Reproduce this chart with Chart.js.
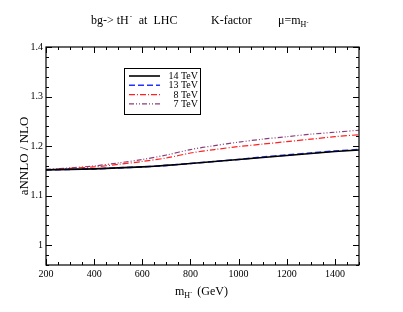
<!DOCTYPE html>
<html><head><meta charset="utf-8">
<script src="https://cdn.jsdelivr.net/npm/chart.js@4.4.0/dist/chart.umd.min.js"></script>
<style>html,body{margin:0;padding:0;background:#fff}#wrap{width:403px;height:312px}</style>
</head><body><div id="wrap"><canvas id="c" width="403" height="312"></canvas></div>
<script>
const masses = [200,300,400,500,600,700,800,900,1000,1100,1200,1300,1400,1500];
const k14 = [1.152,1.153,1.154,1.156,1.158,1.161,1.165,1.169,1.173,1.177,1.181,1.185,1.189,1.192];
const k13 = [1.152,1.153,1.154,1.156,1.158,1.161,1.165,1.169,1.173,1.178,1.182,1.186,1.190,1.193];
const k8  = [1.152,1.155,1.158,1.163,1.169,1.176,1.186,1.193,1.199,1.204,1.209,1.214,1.219,1.223];
const k7  = [1.153,1.156,1.160,1.166,1.173,1.182,1.193,1.201,1.208,1.214,1.219,1.224,1.228,1.232];
const seriesLabels = ['14 TeV','13 TeV','8 TeV','7 TeV'];
const xTickLabels = [200,400,600,800,1000,1200,1400];
const yTickLabels = [1,1.1,1.2,1.3,1.4];

const serif = "'Liberation Serif', 'DejaVu Serif', serif";
function pts(arr){ return masses.map((m,i)=>({x:m,y:arr[i]})); }

const decor = {
  id:'decor',
  afterDatasetsDraw(chart){
    const {ctx, chartArea:a, scales:{x,y}} = chart;
    ctx.save();
    ctx.strokeStyle='#000'; ctx.lineWidth=1.2; ctx.setLineDash([]);
    ctx.strokeRect(a.left, a.top, a.right-a.left, a.bottom-a.top);
    ctx.lineWidth=1;
    for(let v=200; v<=1500; v+=50){
      const px = Math.round(x.getPixelForValue(v))+0.5;
      const L = (v%200===0)?6:3;
      ctx.beginPath();
      ctx.moveTo(px,a.bottom); ctx.lineTo(px,a.bottom-L);
      ctx.moveTo(px,a.top); ctx.lineTo(px,a.top+L);
      ctx.stroke();
    }
    for(let i=0;i<=22;i++){
      const v = 0.96 + i*0.02;
      const py = Math.round(y.getPixelForValue(v))+0.5;
      const major = Math.abs(v*10-Math.round(v*10))<1e-6;
      const L = major?6:3;
      ctx.beginPath();
      ctx.moveTo(a.left,py); ctx.lineTo(a.left+L,py);
      ctx.moveTo(a.right,py); ctx.lineTo(a.right-L,py);
      ctx.stroke();
    }
    // title
    ctx.fillStyle='#000';
    ctx.font = "12px "+serif;
    ctx.textBaseline='alphabetic';
    ctx.textAlign='left';
    let tx = 91, ty = 24;
    ctx.fillText('bg-> tH', tx, ty);
    let w = ctx.measureText('bg-> tH').width;
    ctx.font = "7px "+serif; ctx.fillText('-', tx+w+1, ty-6);
    ctx.font = "12px "+serif;
    ctx.fillText('at  LHC', tx+w+10, ty);
    ctx.fillText('K-factor', 211, ty);
    ctx.fillText('\u03BC=m', 278, ty);
    let w2 = ctx.measureText('\u03BC=m').width;
    ctx.font = "8px "+serif; ctx.fillText('H', 278+w2, ty+3);
    ctx.font = "6px "+serif; ctx.fillText('-', 278+w2+6, ty);
    // x axis title
    ctx.font = "12px "+serif;
    const xl = 175;
    ctx.fillText('m', xl, 295);
    let wm = ctx.measureText('m').width;
    ctx.font = "8px "+serif; ctx.fillText('H', xl+wm, 298);
    ctx.font = "6px "+serif; ctx.fillText('-', xl+wm+6, 294);
    ctx.font = "12px "+serif; ctx.fillText('(GeV)', xl+wm+13, 295);
    // y axis title
    ctx.save();
    ctx.translate(28, 156); ctx.rotate(-Math.PI/2);
    ctx.textAlign='center';
    ctx.font = "13px "+serif;
    ctx.fillText('aNNLO / NLO', 0, 0);
    ctx.restore();
    // legend
    const lx=124, ly=68, lw=76, lh=46;
    ctx.fillStyle='#fff'; ctx.fillRect(lx,ly,lw,lh);
    ctx.strokeStyle='#000'; ctx.lineWidth=1; ctx.strokeRect(lx+0.5,ly+0.5,lw,lh);
    ctx.font = "10px "+serif;
    chart.data.datasets.forEach((ds,i)=>{
      const yy = ly+8+i*9.3;
      ctx.strokeStyle = ds.borderColor; ctx.lineWidth = ds.borderWidth;
      ctx.setLineDash(ds.borderDash||[]);
      ctx.beginPath(); ctx.moveTo(lx+5,yy); ctx.lineTo(lx+36,yy); ctx.stroke();
      ctx.setLineDash([]);
      ctx.fillStyle='#000'; ctx.textAlign='right'; ctx.textBaseline='middle';
      ctx.fillText(ds.label, lx+lw-2, yy+0.5);
    });
    ctx.restore();
  }
};

new Chart(document.getElementById('c'), {
  type:'line',
  data:{ datasets:[
    {label:seriesLabels[0], data:pts(k14), borderColor:'#000000', borderWidth:1.6, borderDash:[]},
    {label:seriesLabels[1], data:pts(k13), borderColor:'#2233ff', borderWidth:1.6, borderDash:[6,3]},
    {label:seriesLabels[2], data:pts(k8),  borderColor:'#ff2020', borderWidth:1.2, borderDash:[6,2,1,2]},
    {label:seriesLabels[3], data:pts(k7),  borderColor:'#8a3c78', borderWidth:1.2, borderDash:[5,2,1,2,1,2]}
  ]},
  options:{
    responsive:false, animation:false,
    layout:{padding:{left:0,top:47,right:44,bottom:0}},
    elements:{point:{radius:0}, line:{tension:0.3, fill:false}},
    plugins:{legend:{display:false}, title:{display:false}, tooltip:{enabled:false}},
    scales:{
      x:{type:'linear', min:200, max:1500,
         grid:{display:false, drawTicks:false}, border:{display:false},
         afterFit(s){ s.height=47; },
         afterBuildTicks(s){ s.ticks = xTickLabels.map(v=>({value:v})); },
         ticks:{autoSkip:false, maxRotation:0, padding:3, color:'#000', font:{family:serif,size:10},
                callback:(v)=>String(v)}},
      y:{type:'linear', min:0.96, max:1.4,
         grid:{display:false, drawTicks:false}, border:{display:false},
         afterFit(s){ s.width=46; },
         afterBuildTicks(s){ s.ticks = yTickLabels.map(v=>({value:v})); },
         ticks:{padding:3, color:'#000', font:{family:serif,size:10},
                callback:(v)=>String(v)}}
    }
  },
  plugins:[decor]
});
</script></body></html>
